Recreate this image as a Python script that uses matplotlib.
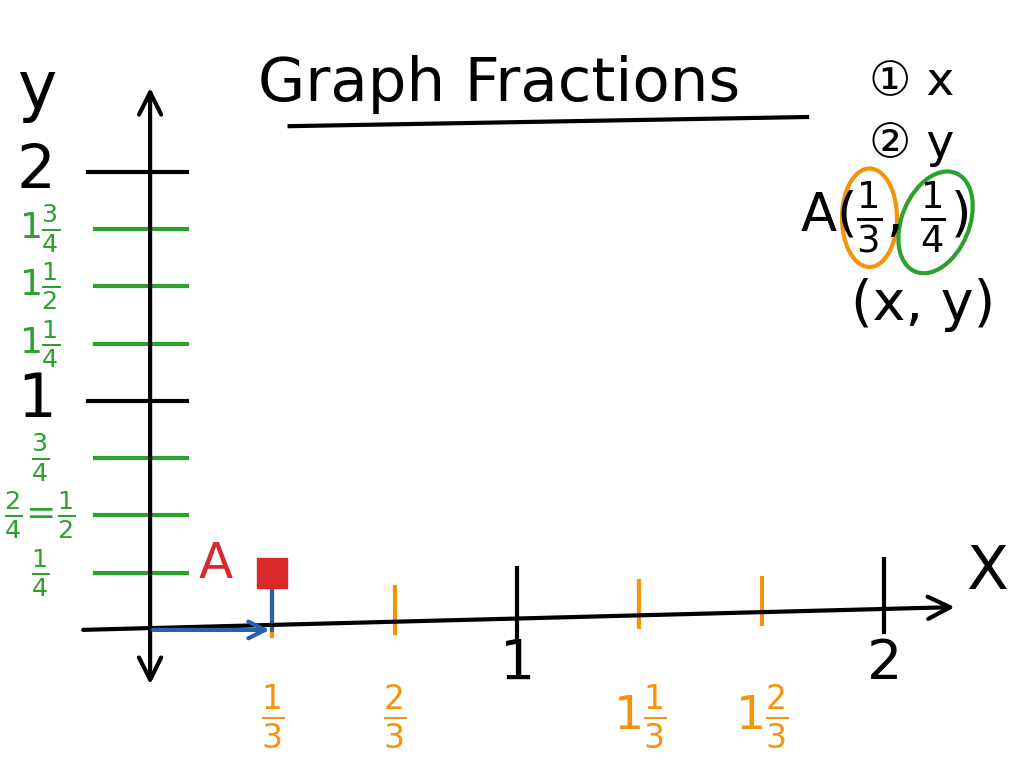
import matplotlib.pyplot as plt
from matplotlib.patches import Ellipse

# hand-drawn coordinate plane, graph units
x_ticks_black = [1, 2]
x_labels_black = ['1', '2']
x_ticks_orange = [1/3, 2/3, 4/3, 5/3]
x_labels_orange = [r'$\frac{1}{3}$', r'$\frac{2}{3}$', r'$1\frac{1}{3}$', r'$1\frac{2}{3}$']
y_ticks_black = [1, 2]
y_labels_black = ['1', '2']
y_ticks_green = [0.25, 0.5, 0.75, 1.25, 1.5, 1.75]
y_labels_green = [r'$\frac{1}{4}$', r'$\frac{2}{4}\!=\!\frac{1}{2}$', r'$\frac{3}{4}$',
                  r'$1\frac{1}{4}$', r'$1\frac{1}{2}$', r'$1\frac{3}{4}$']
point_A = (1/3, 1/4)

orange = '#f5930f'
green = '#2ea02e'
red = '#d92a2a'
blue = '#2a5fb0'

fig = plt.figure(figsize=(10.24, 7.68), dpi=100)
ax = fig.add_axes([0, 0, 1, 1])
ax.set_xlim(-0.409, 2.381)
ax.set_ylim(-0.603, 2.751)
ax.axis('off')


def axis_y(x):
    # the drawn x axis rises slightly to the right
    return 0.1 * (x + 0.19) / 2.39


# axes
ax.annotate('', xy=(2.2, axis_y(2.2)), xytext=(-0.19, 0),
            arrowprops=dict(arrowstyle='->', lw=3, color='black', mutation_scale=40))
ax.annotate('', xy=(0, -0.25), xytext=(0, 2.38),
            arrowprops=dict(arrowstyle='<->', lw=3, color='black', mutation_scale=40))
ax.text(2.28, 0.25, 'X', fontsize=44, ha='center', va='center')
ax.text(-0.31, 2.36, 'y', fontsize=48, ha='center', va='center')

for x, lab in zip(x_ticks_black, x_labels_black):
    y0 = axis_y(x)
    ax.plot([x, x], [y0 - 0.1, y0 + 0.22], color='black', lw=3)
    ax.text(x, -0.15, lab, fontsize=40, ha='center', va='center')
for x, lab in zip(x_ticks_orange, x_labels_orange):
    y0 = axis_y(x)
    ax.plot([x, x], [y0 - 0.05, y0 + 0.15], color=orange, lw=3)
    ax.text(x, -0.38, lab, fontsize=34, ha='center', va='center', color=orange)

for y, lab in zip(y_ticks_black, y_labels_black):
    ax.plot([-0.17, 0.1], [y, y], color='black', lw=3)
    ax.text(-0.31, y, lab, fontsize=44, ha='center', va='center')
for y, lab in zip(y_ticks_green, y_labels_green):
    ax.plot([-0.15, 0.1], [y, y], color=green, lw=3)
    ax.text(-0.3, y, lab, fontsize=26, ha='center', va='center', color=green)

# point A
ax.annotate('', xy=(point_A[0], 0), xytext=(0, 0),
            arrowprops=dict(arrowstyle='->', lw=3, color=blue, mutation_scale=30))
ax.plot([point_A[0], point_A[0]], [0, point_A[1]], color=blue, lw=3)
ax.plot(*point_A, 's', color=red, markersize=22)
ax.text(0.18, 0.29, 'A', fontsize=36, color=red, ha='center', va='center')

# title and notes
ax.text(0.95, 2.38, 'Graph Fractions', fontsize=44, ha='center', va='center')
ax.plot([0.38, 1.79], [2.2, 2.24], color='black', lw=3)
ax.text(1.96, 2.39, '① x', fontsize=34, ha='left', va='center')
ax.text(1.96, 2.12, '② y', fontsize=34, ha='left', va='center')
ax.text(1.77, 1.8, r'A($\frac{1}{3}$, $\frac{1}{4}$)', fontsize=38, ha='left', va='center')
ax.add_patch(Ellipse((1.96, 1.8), 0.15, 0.43, fill=False, ec=orange, lw=3))
ax.add_patch(Ellipse((2.14, 1.78), 0.19, 0.45, angle=-10, fill=False, ec=green, lw=3))
ax.text(1.91, 1.42, '(x, y)', fontsize=40, ha='left', va='center')

fig.savefig('out.png', dpi=100)
